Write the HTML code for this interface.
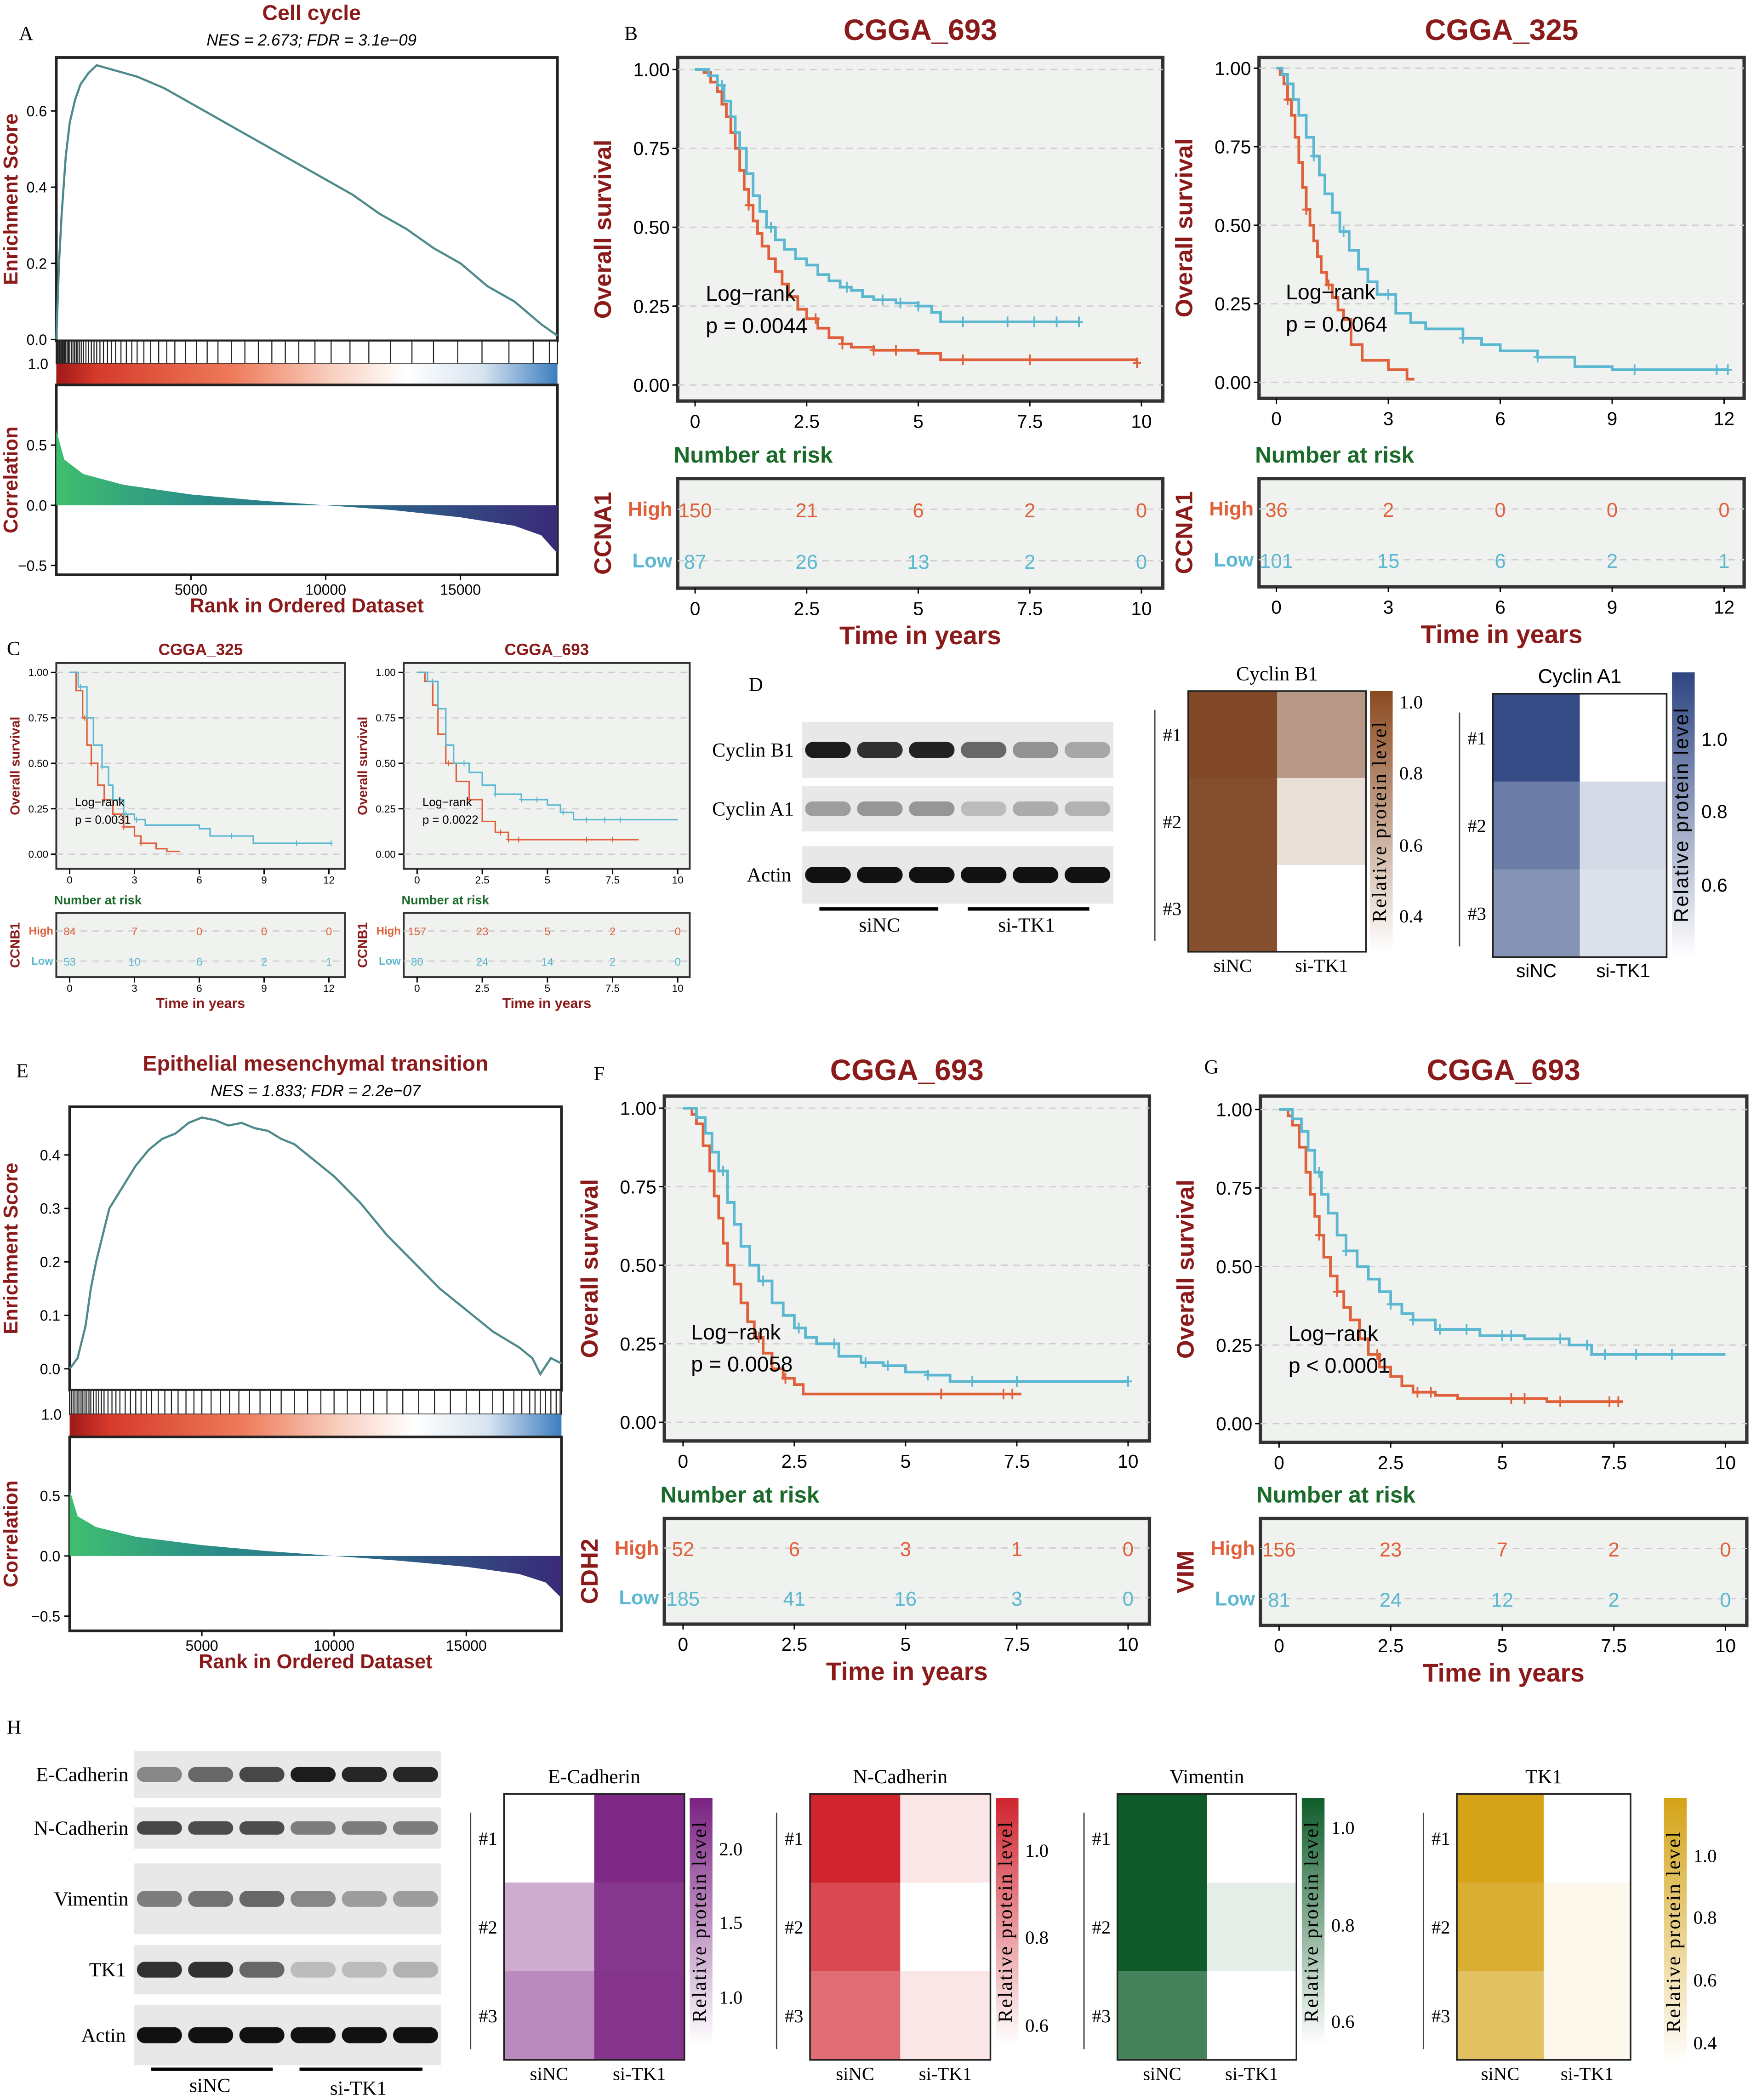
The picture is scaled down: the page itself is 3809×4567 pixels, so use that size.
<!DOCTYPE html>
<html><head><meta charset="utf-8">
<style>
html,body{margin:0;padding:0;background:#fff;}
svg{display:block;font-family:"Liberation Sans",sans-serif;}
.ser{font-family:"Liberation Serif",serif;}
</style></head>
<body>
<svg id="fig" width="3809" height="4567" viewBox="0 0 1310 1571" xmlns="http://www.w3.org/2000/svg">
<defs>
<linearGradient id="corrGrad" x1="0" x2="1" y1="0" y2="0">
<stop offset="0" stop-color="#3fbf6f"/><stop offset="0.3" stop-color="#2a8c8a"/><stop offset="0.6" stop-color="#2a6a8a"/><stop offset="1" stop-color="#3a2a78"/></linearGradient>
<linearGradient id="rankGrad" x1="0" x2="1" y1="0" y2="0">
<stop offset="0" stop-color="#a01818"/><stop offset="0.08" stop-color="#d63a2a"/><stop offset="0.35" stop-color="#ee7a5a"/><stop offset="0.55" stop-color="#f8d0c0"/><stop offset="0.7" stop-color="#ffffff"/><stop offset="0.85" stop-color="#d8e4f0"/><stop offset="1" stop-color="#3c7ec0"/></linearGradient>
<linearGradient id="cbBrown" x1="0" x2="0" y1="0" y2="1"><stop offset="0" stop-color="#8a4a20"/><stop offset="1" stop-color="#fff"/></linearGradient>
<linearGradient id="cbBlue" x1="0" x2="0" y1="0" y2="1"><stop offset="0" stop-color="#2d4582"/><stop offset="1" stop-color="#fff"/></linearGradient>
<linearGradient id="cbPurple" x1="0" x2="0" y1="0" y2="1"><stop offset="0" stop-color="#7a2282"/><stop offset="1" stop-color="#fff"/></linearGradient>
<linearGradient id="cbRed" x1="0" x2="0" y1="0" y2="1"><stop offset="0" stop-color="#d0242f"/><stop offset="1" stop-color="#fff"/></linearGradient>
<linearGradient id="cbGreen" x1="0" x2="0" y1="0" y2="1"><stop offset="0" stop-color="#0f5c2a"/><stop offset="1" stop-color="#fff"/></linearGradient>
<linearGradient id="cbGold" x1="0" x2="0" y1="0" y2="1"><stop offset="0" stop-color="#d4a317"/><stop offset="1" stop-color="#fff"/></linearGradient>
</defs>
<g id="root"></g>
</svg>
<script>
// ---------- DATA ----------
const gseaA_rank=[0,100,200,350,500,700,900,1200,1500,2000,2500,3000,4000,5000,6000,7000,8000,9000,10000,11000,12000,13000,14000,15000,16000,17000,17500,18000,18600];
const gseaA_es=[0,0.2,0.33,0.48,0.57,0.63,0.67,0.70,0.72,0.71,0.70,0.69,0.66,0.62,0.58,0.54,0.50,0.46,0.42,0.38,0.33,0.29,0.24,0.20,0.14,0.10,0.07,0.04,0.01];
const gseaE_rank=[0,300,600,800,1000,1200,1500,2000,2500,3000,3500,4000,4500,5000,5500,6000,6500,7000,7500,8000,8500,9000,10000,11000,11500,12000,13000,14000,14500,15000,16000,17000,17500,17800,18000,18200,18600];
const gseaE_es=[0,0.02,0.08,0.15,0.2,0.24,0.3,0.34,0.38,0.41,0.43,0.44,0.46,0.47,0.465,0.455,0.46,0.45,0.445,0.43,0.42,0.40,0.36,0.31,0.28,0.25,0.20,0.15,0.13,0.11,0.07,0.04,0.02,-0.01,0.005,0.02,0.01];
const corr_rank=[0,300,1000,2500,5000,7500,10000,12500,15000,17000,18000,18600];
const corrA_val=[0.62,0.38,0.26,0.17,0.09,0.04,0.0,-0.04,-0.1,-0.17,-0.25,-0.4];
const corrE_val=[0.55,0.33,0.24,0.16,0.09,0.04,0.0,-0.04,-0.09,-0.15,-0.22,-0.35];
const hitsA=[30,60,100,140,180,220,260,300,350,400,450,500,560,620,680,740,800,870,940,1010,1100,1200,1300,1400,1500,1620,1750,1900,2050,2200,2400,2600,2800,3000,3250,3500,3800,4100,4400,4800,5200,5600,6000,6500,7000,7500,8000,8500,9000,9600,10200,10900,11600,12400,13200,14000,14900,15800,16800,17700,18300];
const hitsE=[60,130,200,280,350,430,500,580,650,730,800,900,1000,1100,1200,1300,1450,1600,1750,1900,2100,2300,2500,2700,2900,3100,3350,3600,3850,4100,4400,4700,5000,5350,5700,6050,6400,6800,7200,7600,8000,8500,9000,9500,10000,10500,11000,11500,12000,12600,13200,13800,14400,15000,15500,16000,16400,16800,17100,17400,17600,17800,18000,18200,18400,18550];
const xTicksGsea=[5000,10000,15000];

// KM curves [time,surv]
const kmB1_high=[[0,1],[0.2,0.99],[0.35,0.96],[0.5,0.93],[0.6,0.89],[0.7,0.85],[0.8,0.8],[0.9,0.75],[1.0,0.68],[1.1,0.62],[1.2,0.57],[1.3,0.52],[1.4,0.48],[1.5,0.44],[1.65,0.4],[1.8,0.36],[1.95,0.32],[2.1,0.28],[2.3,0.24],[2.5,0.21],[2.75,0.18],[3,0.15],[3.3,0.13],[3.5,0.12],[4,0.11],[5,0.1],[5.5,0.08],[9.9,0.07]];
const kmB1_low=[[0,1],[0.3,0.98],[0.5,0.95],[0.65,0.9],[0.8,0.85],[0.9,0.8],[1,0.75],[1.15,0.67],[1.3,0.6],[1.45,0.55],[1.6,0.5],[1.8,0.46],[2,0.43],[2.25,0.4],[2.5,0.38],[2.75,0.35],[3,0.33],[3.25,0.31],[3.5,0.3],[3.75,0.28],[4,0.27],[4.5,0.26],[5,0.25],[5.3,0.23],[5.5,0.2],[8.6,0.2]];
const kmB2_high=[[0,1],[0.1,0.98],[0.2,0.95],[0.3,0.9],[0.4,0.85],[0.5,0.78],[0.6,0.7],[0.7,0.62],[0.8,0.55],[0.9,0.5],[1,0.45],[1.1,0.4],[1.2,0.35],[1.35,0.31],[1.5,0.27],[1.65,0.23],[1.8,0.2],[2,0.12],[2.3,0.07],[3,0.04],[3.5,0.01],[3.7,0.01]];
const kmB2_low=[[0,1],[0.15,0.98],[0.3,0.95],[0.45,0.9],[0.6,0.85],[0.8,0.78],[1,0.72],[1.15,0.66],[1.3,0.6],[1.5,0.54],[1.7,0.48],[1.95,0.42],[2.2,0.36],[2.45,0.32],[2.7,0.28],[3.2,0.22],[3.6,0.19],[4,0.17],[5,0.14],[5.5,0.12],[6,0.1],[7,0.08],[8,0.05],[9,0.04],[12.1,0.04]];
const kmC1_high=[[0,1],[0.3,0.9],[0.6,0.75],[0.8,0.6],[1,0.5],[1.3,0.38],[1.6,0.3],[2,0.22],[2.5,0.15],[3,0.1],[3.3,0.06],[4,0.03],[4.5,0.015],[5.1,0.015]];
const kmC1_low=[[0,1],[0.4,0.92],[0.8,0.75],[1.1,0.6],[1.5,0.48],[1.8,0.38],[2,0.3],[2.5,0.22],[3,0.19],[3.5,0.16],[6,0.14],[6.5,0.1],[8.5,0.06],[12.1,0.06]];
const kmC2_high=[[0,1],[0.3,0.95],[0.6,0.82],[0.8,0.66],[1.1,0.5],[1.5,0.4],[2,0.3],[2.5,0.18],[3,0.12],[3.5,0.08],[8.5,0.08]];
const kmC2_low=[[0,1],[0.4,0.95],[0.8,0.8],[1.1,0.6],[1.4,0.5],[2,0.45],[2.5,0.38],[3,0.33],[4,0.3],[5,0.27],[5.5,0.23],[6,0.19],[10,0.19]];
const kmF_high=[[0,1],[0.2,0.98],[0.3,0.95],[0.45,0.88],[0.6,0.8],[0.7,0.72],[0.8,0.65],[0.9,0.57],[1,0.5],[1.15,0.44],[1.3,0.38],[1.45,0.32],[1.6,0.27],[1.8,0.22],[2,0.17],[2.25,0.14],[2.5,0.12],[2.7,0.09],[7.6,0.09]];
const kmF_low=[[0,1],[0.3,0.97],[0.5,0.92],[0.65,0.86],[0.8,0.8],[1,0.7],[1.15,0.63],[1.3,0.56],[1.5,0.5],[1.7,0.45],[2,0.38],[2.25,0.34],[2.5,0.3],[2.75,0.27],[3,0.25],[3.5,0.21],[4,0.19],[4.5,0.18],[5,0.16],[5.5,0.15],[6,0.13],[10,0.13]];
const kmG_high=[[0,1],[0.2,0.98],[0.3,0.95],[0.45,0.88],[0.6,0.8],[0.7,0.73],[0.8,0.66],[0.9,0.6],[1,0.53],[1.15,0.47],[1.3,0.42],[1.45,0.37],[1.6,0.33],[1.8,0.27],[2,0.22],[2.25,0.18],[2.5,0.15],[2.75,0.12],[3,0.1],[3.5,0.09],[4,0.08],[5,0.08],[6,0.07],[7.7,0.07]];
const kmG_low=[[0,1],[0.3,0.97],[0.5,0.93],[0.65,0.87],[0.8,0.8],[0.95,0.73],[1.1,0.67],[1.3,0.6],[1.5,0.55],[1.75,0.5],[2,0.46],[2.25,0.42],[2.5,0.38],[2.75,0.35],[3,0.33],[3.5,0.3],[4.5,0.28],[5.5,0.27],[6.5,0.25],[7,0.22],[10,0.22]];
const censB1_high=[1.2,2.7,3.3,4.0,4.5,6.0,7.5,9.9];const censB1_low=[0.6,1.7,3.4,4.2,4.6,5.0,6.0,7.0,7.6,8.1,8.6];
const censB2_high=[0.3,0.8,1.4];const censB2_low=[1.0,1.8,3.0,5.0,7.0,9.6,11.8,12.1];
const censC1_high=[0.7,1.0,1.6,2.5,3.3];const censC1_low=[0.5,1.5,2.0,2.6,3.1,7.5,10.5,12.1];
const censC2_high=[1.2,2.0,3.2,3.5,3.9,6.5,7.5];const censC2_low=[0.6,1.8,3.0,4.0,4.6,5.6,6.5,7.2,7.8];
const censF_high=[1.7,2.3,5.8,7.2,7.4];const censF_low=[0.9,1.8,2.6,3.4,4.1,4.6,5.5,6.5,7.5,10];
const censG_high=[0.9,1.3,2.2,3.1,3.4,5.2,5.5,6.3,7.4,7.6];const censG_low=[0.9,1.5,2.5,3.0,3.6,4.2,5.0,5.2,6.3,6.9,7.3,8.0,8.8];
const riskB1_high=[150,21,6,2,0],riskB1_low=[87,26,13,2,0];
const riskB2_high=[36,2,0,0,0],riskB2_low=[101,15,6,2,1];
const riskC1_high=[84,7,0,0,0],riskC1_low=[53,10,6,2,1];
const riskC2_high=[157,23,5,2,0],riskC2_low=[80,24,14,2,0];
const riskF_high=[52,6,3,1,0],riskF_low=[185,41,16,3,0];
const riskG_high=[156,23,7,2,0],riskG_low=[81,24,12,2,0];
const ticks10=["0","2.5","5","7.5","10"],ticks12=["0","3","6","9","12"];
const yTicksKM=["0.00","0.25","0.50","0.75","1.00"];
// heatmap values (relative protein level) [siNC, si-TK1] per replicate
const hmCycB1=[[0.97,0.72],[0.95,0.5],[0.95,0.4]];
const hmCycA1=[[0.98,0.4],[0.82,0.52],[0.75,0.5]];
const hmECad=[[0.7,2.25],[1.3,2.15],[1.55,2.17]];
const hmNCad=[[1.1,0.57],[1.0,0.5],[0.9,0.57]];
const hmVim=[[1.1,0.45],[1.1,0.52],[0.95,0.45]];
const hmTK1=[[1.04,0.3],[0.95,0.36],[0.8,0.36]];
// western blot band intensities per lane (0..1)
const wbCycB1=[0.95,0.85,0.92,0.6,0.4,0.3];
const wbCycA1=[0.35,0.38,0.38,0.2,0.28,0.25];
const wbActinD=[1,1,1,1,1,1];
const wbECad=[0.45,0.6,0.75,0.95,0.9,0.9];
const wbNCad=[0.75,0.72,0.72,0.5,0.5,0.5];
const wbVim=[0.5,0.55,0.6,0.45,0.35,0.35];
const wbTK1=[0.85,0.85,0.6,0.2,0.2,0.25];
const wbActinH=[1,1,1,1,1,1];

// ---------- HELPERS ----------
const NS="http://www.w3.org/2000/svg";
const root=document.getElementById('root');
function mk(tag,attrs,parent,txt){const e=document.createElementNS(NS,tag);for(const k in attrs)e.setAttribute(k,attrs[k]);if(txt!==undefined)e.textContent=txt;(parent||root).appendChild(e);return e;}
function T(x,y,s,opt,parent){opt=opt||{};const a={x:x,y:y,'font-size':opt.fs||12,fill:opt.fill||'#000','text-anchor':opt.anchor||'start'};if(opt.bold)a['font-weight']='bold';if(opt.italic)a['font-style']='italic';if(opt.rot)a.transform='rotate(-90 '+x+' '+y+')';if(opt.serif)a['class']='ser';const e=mk('text',a,parent,s);return e;}
const RED='#e0603a',BLUE='#5bb8d0',DR='#8b1a1a',DG='#1a6a2a';

// ---------- GSEA ----------
function gsea(c){
  const g=mk('g',{});
  const sx=r=>c.x0+(r/18600)*(c.x1-c.x0);
  const se=v=>c.esZero+(c.esZero-c.esTick)*(-v)/c.esTickVal;
  mk('rect',{x:c.x0,y:c.esTop,width:c.x1-c.x0,height:c.barTop-c.esTop,fill:'#fff',stroke:'#222','stroke-width':2},g);
  let d='';c.rank.forEach((r,i)=>{d+=(i?'L':'M')+sx(r)+' '+se(c.es[i]);});
  const line=mk('path',{d:d,fill:'none',stroke:'#4f8a8b','stroke-width':1.6},g);
  
  c.esTicks.forEach(v=>{const y=se(v);mk('line',{x1:c.x0-4,x2:c.x0,y1:y,y2:y,stroke:'#000'},g);T(c.x0-7,y+4,v.toFixed(1),{fs:11,anchor:'end'},g);});
  mk('rect',{x:c.x0,y:c.barTop,width:c.x1-c.x0,height:c.stripTop-c.barTop,fill:'#fff',stroke:'#222','stroke-width':1},g);
  c.hits.forEach(h=>{const b=mk('line',{x1:sx(h),x2:sx(h),y1:c.barTop,y2:c.stripTop,stroke:'#222','stroke-width':0.8},g);});
  mk('rect',{x:c.x0,y:c.stripTop,width:c.x1-c.x0,height:c.corrTop-c.stripTop,fill:'url(#rankGrad)'},g);
  mk('rect',{x:c.x0,y:c.corrTop,width:c.x1-c.x0,height:c.corrBot-c.corrTop,fill:'#fff',stroke:'#222','stroke-width':2},g);
  const sc=v=>c.cZero-v*(c.cZero-c.cHalf)/0.5;
  let p='M'+sx(0)+' '+sc(0);corr_rank.forEach((r,i)=>{p+='L'+sx(r)+' '+sc(c.corr[i]);});p+='L'+sx(18600)+' '+sc(0)+'Z';
  const area=mk('path',{d:p,fill:'url(#corrGrad)'},g);
  [0.5,0,-0.5].forEach(v=>{const y=sc(v);mk('line',{x1:c.x0-4,x2:c.x0,y1:y,y2:y,stroke:'#000'},g);T(c.x0-7,y+4,v.toFixed(1).replace('-','−'),{fs:11,anchor:'end'},g);});
  T(c.x0-6,c.stripTop+4,'1.0',{fs:11,anchor:'end'},g);
  xTicksGsea.forEach(v=>{const x=sx(v);mk('line',{x1:x,x2:x,y1:c.corrBot,y2:c.corrBot+4,stroke:'#000'},g);T(x,c.corrBot+15,String(v),{fs:11,anchor:'middle'},g);});
  T((c.x0+c.x1)/2,c.corrBot+28,'Rank in Ordered Dataset',{fs:15,bold:true,fill:DR,anchor:'middle'},g);
  T(13,(c.esTop+c.barTop)/2,'Enrichment Score',{fs:15,bold:true,fill:DR,anchor:'middle',rot:true},g);
  T(13,(c.corrTop+c.corrBot)/2,'Correlation',{fs:15,bold:true,fill:DR,anchor:'middle',rot:true},g);
  T(c.tx,c.ty,c.title,{fs:16,bold:true,fill:DR,anchor:'middle'},g);
  T(c.tx,c.ty+19,c.sub,{fs:12,italic:true,anchor:'middle'},g);
}
gsea({name:'gsea-cell-cycle',x0:42,x1:417,esTop:43,barTop:255,stripTop:272,corrTop:288,corrBot:430,esZero:254,esTick:83,esTickVal:0.6,esTicks:[0,0.2,0.4,0.6],rank:gseaA_rank,es:gseaA_es,hits:hitsA,corr:corrA_val,cZero:378,cHalf:333,tx:233,ty:15,title:'Cell cycle',sub:'NES = 2.673; FDR = 3.1e−09'});
gsea({name:'gsea-emt',x0:52,x1:420,esTop:828,barTop:1040,stripTop:1058,corrTop:1075,corrBot:1220,esZero:1024,esTick:864,esTickVal:0.4,esTicks:[0,0.1,0.2,0.3,0.4],rank:gseaE_rank,es:gseaE_es,hits:hitsE,corr:corrE_val,cZero:1164,cHalf:1119,tx:236,ty:801,title:'Epithelial mesenchymal transition',sub:'NES = 1.833; FDR = 2.2e−07'});

// ---------- KM ----------
function km(c){
  const g=mk('g',{});
  const f=c.s||1;
  const sx=t=>c.ax0+t/c.xmax*(c.ax1-c.ax0);
  const sy=v=>c.ay0-v*(c.ay0-c.ay1);
  T((c.px0+c.px1)/2,c.titleY,c.title,{fs:22*f,bold:true,fill:DR,anchor:'middle'},g);
  mk('rect',{x:c.px0,y:c.py0,width:c.px1-c.px0,height:c.py1-c.py0,fill:'#eff2ef',stroke:'#333','stroke-width':2.5*f},g);
  yTicksKM.forEach((s,i)=>{const y=sy(i*0.25);mk('line',{x1:c.px0,x2:c.px1,y1:y,y2:y,stroke:'#cfcfcf','stroke-dasharray':'5 4','stroke-width':1},g);mk('line',{x1:c.px0-4,x2:c.px0,y1:y,y2:y,stroke:'#000'},g);T(c.px0-6,y+5*f,s,{fs:14*f,anchor:'end'},g);});
  c.xt.forEach((s,i)=>{const x=sx(i*c.xmax/4);mk('line',{x1:x,x2:x,y1:c.py1,y2:c.py1+4,stroke:'#000'},g);T(x,c.py1+20*f,s,{fs:14*f,anchor:'middle'},g);});
  T(c.px0-50*f,(c.py0+c.py1)/2,'Overall survival',{fs:18*f,bold:true,fill:DR,anchor:'middle',rot:true},g);
  [[c.high,RED,c.ch,'high-curve'],[c.low,BLUE,c.cl,'low-curve']].forEach(([pts,col,cens,nm])=>{
    let d='M'+sx(pts[0][0])+' '+sy(pts[0][1]);
    for(let i=1;i<pts.length;i++){d+='H'+sx(pts[i][0])+'V'+sy(pts[i][1]);}
    const pth=mk('path',{d:d,fill:'none',stroke:col,'stroke-width':2*f},g);
    
    
    cens.forEach(t=>{let v=pts[0][1];pts.forEach(p=>{if(p[0]<=t)v=p[1];});const x=sx(t),y=sy(v);
      mk('path',{d:`M${x-3*f} ${y}H${x+3*f}M${x} ${y-4*f}V${y+4*f}`,stroke:col,'stroke-width':1.3*f},g);});
  });
  T(c.lrx,c.lry,'Log−rank',{fs:16*f},g);T(c.lrx,c.lry+24*f,c.p,{fs:16*f},g);
  T(c.px0-3*f,c.ry0-12*f,'Number at risk',{fs:17*f,bold:true,fill:DG},g);
  mk('rect',{x:c.px0,y:c.ry0,width:c.px1-c.px0,height:c.ry1-c.ry0,fill:'#eff2ef',stroke:'#333','stroke-width':2.5*f},g);
  const hy=c.ry0+(c.ry1-c.ry0)*0.28,ly=c.ry0+(c.ry1-c.ry0)*0.75;
  [[hy,c.rh,RED,'High'],[ly,c.rl,BLUE,'Low']].forEach(([y,vals,col,lab])=>{
    mk('line',{x1:c.px0,x2:c.px1,y1:y,y2:y,stroke:'#cfcfcf','stroke-dasharray':'5 4'},g);
    T(c.px0-4*f,y+5*f,lab,{fs:15*f,bold:true,fill:col,anchor:'end'},g);
    vals.forEach((v,i)=>{T(sx(i*c.xmax/4),y+6*f,String(v),{fs:15*f,fill:col,anchor:'middle'},g);});
  });
  T(c.px0-50*f,(c.ry0+c.ry1)/2,c.gene,{fs:18*f,bold:true,fill:DR,anchor:'middle',rot:true},g);
  c.xt.forEach((s,i)=>{const x=sx(i*c.xmax/4);mk('line',{x1:x,x2:x,y1:c.ry1,y2:c.ry1+4,stroke:'#000'},g);T(x,c.ry1+20*f,s,{fs:14*f,anchor:'middle'},g);});
  T((c.px0+c.px1)/2,c.ry1+42*f,'Time in years',{fs:19*f,bold:true,fill:DR,anchor:'middle'},g);
}
km({name:'km-cgga693-ccna1',title:'CGGA_693',titleY:30,px0:507,px1:870,py0:43,py1:300,ax0:520,ax1:854,xmax:10,ay1:52,ay0:288,xt:ticks10,high:kmB1_high,low:kmB1_low,ch:censB1_high,cl:censB1_low,lrx:528,lry:225,p:'p = 0.0044',ry0:358,ry1:440,rh:riskB1_high,rl:riskB1_low,gene:'CCNA1'});
km({name:'km-cgga325-ccna1',title:'CGGA_325',titleY:30,px0:942,px1:1305,py0:43,py1:298,ax0:955,ax1:1290,xmax:12,ay1:51,ay0:286,xt:ticks12,high:kmB2_high,low:kmB2_low,ch:censB2_high,cl:censB2_low,lrx:962,lry:224,p:'p = 0.0064',ry0:358,ry1:439,rh:riskB2_high,rl:riskB2_low,gene:'CCNA1'});
km({name:'km-cgga325-ccnb1',s:0.55,title:'CGGA_325',titleY:490,px0:42,px1:258,py0:496,py1:650,ax0:52,ax1:246,xmax:12,ay1:503,ay0:639,xt:ticks12,high:kmC1_high,low:kmC1_low,ch:censC1_high,cl:censC1_low,lrx:56,lry:603,p:'p = 0.0031',ry0:683,ry1:731,rh:riskC1_high,rl:riskC1_low,gene:'CCNB1'});
km({name:'km-cgga693-ccnb1',s:0.55,title:'CGGA_693',titleY:490,px0:302,px1:516,py0:496,py1:650,ax0:312,ax1:507,xmax:10,ay1:503,ay0:639,xt:ticks10,high:kmC2_high,low:kmC2_low,ch:censC2_high,cl:censC2_low,lrx:316,lry:603,p:'p = 0.0022',ry0:683,ry1:731,rh:riskC2_high,rl:riskC2_low,gene:'CCNB1'});
km({name:'km-cgga693-cdh2',title:'CGGA_693',titleY:808,px0:497,px1:860,py0:820,py1:1078,ax0:511,ax1:844,xmax:10,ay1:829,ay0:1064,xt:ticks10,high:kmF_high,low:kmF_low,ch:censF_high,cl:censF_low,lrx:517,lry:1002,p:'p = 0.0058',ry0:1136,ry1:1215,rh:riskF_high,rl:riskF_low,gene:'CDH2'});
km({name:'km-cgga693-vim',title:'CGGA_693',titleY:808,px0:943,px1:1307,py0:820,py1:1079,ax0:957,ax1:1291,xmax:10,ay1:830,ay0:1065,xt:ticks10,high:kmG_high,low:kmG_low,ch:censG_high,cl:censG_low,lrx:964,lry:1003,p:'p < 0.0001',ry0:1136,ry1:1216,rh:riskG_high,rl:riskG_low,gene:'VIM'});

// ---------- HEATMAPS ----------
function hm(c){
  const g=mk('g',{});
  const w=(c.x1-c.x0)/2,h=(c.y1-c.y0)/3;
  const frac=v=>Math.max(0,Math.min(1,(v-c.vmin)/(c.vmax-c.vmin)));
  const mix=(t)=>{const a=c.col;const r=Math.round(255+(a[0]-255)*t),gg=Math.round(255+(a[1]-255)*t),b=Math.round(255+(a[2]-255)*t);return `rgb(${r},${gg},${b})`;};
  c.vals.forEach((row,i)=>row.forEach((v,j)=>{const r=mk('rect',{x:c.x0+j*w,y:c.y0+i*h,width:w+0.3,height:h+0.3,fill:mix(frac(v))},g);}));
  mk('rect',{x:c.x0,y:c.y0,width:c.x1-c.x0,height:c.y1-c.y0,fill:'none',stroke:'#222','stroke-width':1.2},g);
  mk('line',{x1:c.x0-25,x2:c.x0-25,y1:c.y0+14,y2:c.y1-8,stroke:'#444'},g);
  ['#1','#2','#3'].forEach((s,i)=>T(c.x0-5,c.y0+h*(i+0.5)+5,s,{fs:14,anchor:'end',serif:true},g));
  T(c.x0+w/2,c.y1+15,'siNC',{fs:14,anchor:'middle',serif:c.serif},g);
  T(c.x0+1.5*w,c.y1+15,'si-TK1',{fs:14,anchor:'middle',serif:c.serif},g);
  T((c.x0+c.x1)/2,c.y0-8,c.title,{fs:15,anchor:'middle',serif:c.serif},g);
  mk('rect',{x:c.cbx,y:c.cby0,width:17,height:c.cby1-c.cby0,fill:c.grad},g);
  c.ticks.forEach(([v,y])=>T(c.cbx+22,y+5,v,{fs:14,serif:c.serif},g));
  T(c.cbx+12,(c.cby0+c.cby1)/2,'Relative protein level',{fs:15,anchor:'middle',rot:true,serif:c.serif},g).setAttribute('letter-spacing','1');
}
hm({name:'heatmap-cyclin-b1',title:'Cyclin B1',serif:true,x0:889,x1:1022,y0:517,y1:712,vals:hmCycB1,vmin:0.4,vmax:1.0,col:[122,62,28],cbx:1025,cby0:517,cby1:712,grad:'url(#cbBrown)',ticks:[['1.0',525],['0.8',578],['0.6',632],['0.4',685]]});
hm({name:'heatmap-cyclin-a1',title:'Cyclin A1',serif:false,x0:1117,x1:1247,y0:519,y1:716,vals:hmCycA1,vmin:0.4,vmax:1.0,col:[45,69,130],cbx:1251,cby0:503,cby1:716,grad:'url(#cbBlue)',ticks:[['1.0',553],['0.8',607],['0.6',662]]});
hm({name:'heatmap-e-cadherin',title:'E-Cadherin',serif:true,x0:377,x1:512,y0:1342,y1:1541,vals:hmECad,vmin:0.7,vmax:2.3,col:[122,34,130],cbx:516,cby0:1345,cby1:1530,grad:'url(#cbPurple)',ticks:[['2.0',1383],['1.5',1438],['1.0',1494]]});
hm({name:'heatmap-n-cadherin',title:'N-Cadherin',serif:true,x0:606,x1:741,y0:1342,y1:1541,vals:hmNCad,vmin:0.5,vmax:1.1,col:[208,36,47],cbx:745,cby0:1345,cby1:1530,grad:'url(#cbRed)',ticks:[['1.0',1384],['0.8',1449],['0.6',1515]]});
hm({name:'heatmap-vimentin',title:'Vimentin',serif:true,x0:836,x1:970,y0:1342,y1:1541,vals:hmVim,vmin:0.45,vmax:1.1,col:[15,92,42],cbx:974,cby0:1345,cby1:1530,grad:'url(#cbGreen)',ticks:[['1.0',1367],['0.8',1440],['0.6',1512]]});
hm({name:'heatmap-tk1',title:'TK1',serif:true,x0:1090,x1:1220,y0:1342,y1:1541,vals:hmTK1,vmin:0.3,vmax:1.04,col:[212,163,23],cbx:1245,cby0:1345,cby1:1545,grad:'url(#cbGold)',ticks:[['1.0',1388],['0.8',1434],['0.6',1481],['0.4',1528]]});

// ---------- WESTERN BLOTS ----------
function wb(name,label,x0,x1,y0,y1,vals,lx){
  const g=mk('g',{});
  mk('rect',{x:x0,y:y0,width:x1-x0,height:y1-y0,fill:'#e8e8e8'},g);
  const lw=(x1-x0)/6,bh=Math.min(12,(y1-y0)*0.32);
  vals.forEach((v,i)=>{const b=mk('rect',{x:x0+lw*(i+0.06),y:(y0+y1)/2-bh/2,width:lw*0.88,height:bh,rx:bh/2,fill:'#111','fill-opacity':v},g);});
  T(lx,(y0+y1)/2+5,label,{fs:15,anchor:'end',serif:true},g);
}
wb('wb-cyclin-b1','Cyclin B1',600,833,540,582,wbCycB1,594);
wb('wb-cyclin-a1','Cyclin A1',600,833,588,622,wbCycA1,594);
wb('wb-actin-d','Actin',600,833,633,676,wbActinD,592);
mk('line',{x1:613,x2:702,y1:680,y2:680,stroke:'#000','stroke-width':2.5});
mk('line',{x1:724,x2:815,y1:680,y2:680,stroke:'#000','stroke-width':2.5});
T(658,697,'siNC',{fs:15,anchor:'middle',serif:true});T(768,697,'si-TK1',{fs:15,anchor:'middle',serif:true});
wb('wb-e-cadherin','E-Cadherin',100,330,1310,1345,wbECad,96);
wb('wb-n-cadherin','N-Cadherin',100,330,1352,1383,wbNCad,96);
wb('wb-vimentin','Vimentin',100,330,1394,1447,wbVim,96);
wb('wb-tk1','TK1',100,330,1455,1492,wbTK1,94);
wb('wb-actin-h','Actin',100,330,1500,1545,wbActinH,94);
mk('line',{x1:113,x2:204,y1:1548,y2:1548,stroke:'#000','stroke-width':2.5});
mk('line',{x1:224,x2:316,y1:1548,y2:1548,stroke:'#000','stroke-width':2.5});
T(157,1565,'siNC',{fs:15,anchor:'middle',serif:true});T(268,1567,'si-TK1',{fs:15,anchor:'middle',serif:true});

[['A',14,30],['B',467,30],['C',5,490],['D',560,517],['E',12,806],['F',444,808],['G',901,803],['H',5,1297]].forEach(([l,x,y])=>{const t=T(x,y,l,{fs:15,serif:true});});
</script>
</body></html>
